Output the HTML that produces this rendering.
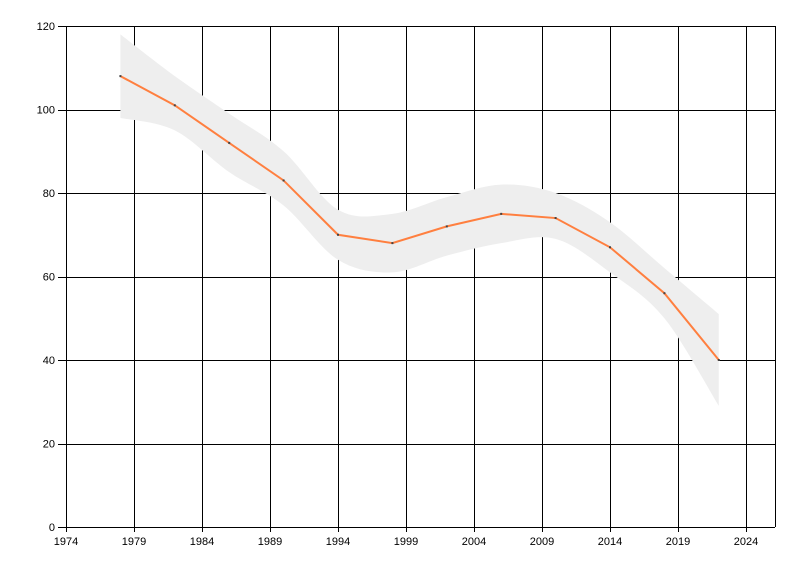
<!DOCTYPE html>
<html><head><meta charset="utf-8"><style>
html,body{margin:0;padding:0;background:#fff;}
svg{display:block;font-family:"Liberation Sans",sans-serif;font-size:11px;}
</style></head><body>
<svg id="s" width="800" height="576" xmlns="http://www.w3.org/2000/svg">
<g id="grid" stroke="#000" stroke-width="1"></g>
<path id="band" fill="#eeeeee" stroke="none"/>
<path id="line" fill="none" stroke="#ff7f3f" stroke-width="2"/>
<g id="pts" fill="#444"></g>
<g id="axes" stroke="#000" stroke-width="1"></g>
<g id="labels" fill="#000"></g>
</svg>
<script>
var X=function(y){return 66+(y-1974)*13.6},Y=function(v){return 527-v*4.175};
var ns="http://www.w3.org/2000/svg";
function el(p,t,a,txt){var e=document.createElementNS(ns,t);for(var k in a)e.setAttribute(k,a[k]);if(txt)e.textContent=txt;document.getElementById(p).appendChild(e);}
for(var v=20;v<=120;v+=20){var y=Y(v)+.5|0;y+=.5;el("grid","line",{x1:58,x2:775,y1:y,y2:y});}
for(var yr=1979;yr<=2024;yr+=5){var x=Math.round(X(yr))+.5;el("grid","line",{x1:x,x2:x,y1:26,y2:532});}
el("grid","line",{x1:775.5,x2:775.5,y1:26,y2:527});
el("axes","line",{x1:66.5,x2:66.5,y1:26,y2:532});
el("axes","line",{x1:58,x2:775,y1:527.5,y2:527.5});
for(var v=0;v<=120;v+=20){el("labels","text",{x:55,y:Y(v)+4,"text-anchor":"end"},""+v);}
for(var yr=1974;yr<=2024;yr+=5){el("labels","text",{x:X(yr),y:545,"text-anchor":"middle"},""+yr);}
var yrs=[1978,1982,1986,1990,1994,1998,2002,2006,2010,2014,2018,2022];
var val=[108,101,92,83,70,68,72,75,74,67,56,40];
var up=[118,108,99,90,76,75,79,82,80,73,62,51];
var lo=[98,95,85,77,64,61,65,68,69,61,50,29];
function spline(pts){var d="M"+pts[0][0]+","+pts[0][1];for(var i=0;i<pts.length-1;i++){var p0=pts[i-1]||pts[i],p1=pts[i],p2=pts[i+1],p3=pts[i+2]||p2;var t=0.5/3;d+=" C"+(p1[0]+(p2[0]-p0[0])*t)+","+(p1[1]+(p2[1]-p0[1])*t)+" "+(p2[0]-(p3[0]-p1[0])*t)+","+(p2[1]-(p3[1]-p1[1])*t)+" "+p2[0]+","+p2[1];}return d;}
var U=yrs.map(function(y,i){return[X(y),Y(up[i])]}),L=yrs.map(function(y,i){return[X(y),Y(lo[i])]}).reverse();
var d=spline(U)+" L"+L[0][0]+","+L[0][1]+spline(L).replace(/^M[^ ]+/,"")+" Z";
document.getElementById("band").setAttribute("d",d);
document.getElementById("line").setAttribute("d","M"+yrs.map(function(y,i){return X(y)+","+Y(val[i])}).join(" L"));
yrs.forEach(function(y,i){el("pts","rect",{x:X(y)-1,y:Y(val[i])-1,width:2,height:2});});
</script>
</body></html>
